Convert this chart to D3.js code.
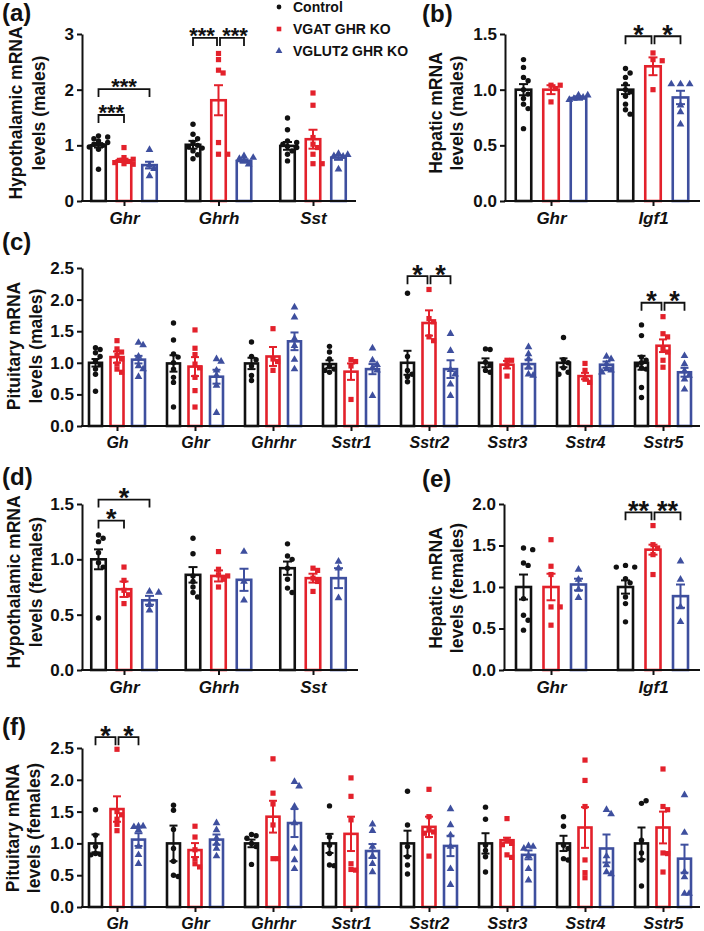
<!DOCTYPE html>
<html><head><meta charset="utf-8">
<script src="https://cdn.jsdelivr.net/npm/d3@7"></script>
<style>
html,body{margin:0;padding:0;background:#fff;}
svg text{font-family:"Liberation Sans",Arial,sans-serif;font-weight:bold;}
</style></head>
<body><svg id="chart" width="704" height="931"></svg>
<script>
// ---------------- DATA ----------------
const seriesNames = ["Control", "VGAT GHR KO", "VGLUT2 GHR KO"];
const seriesColors = ["#111111", "#e3212b", "#3e4f9e"];

// (a) Hypothalamic, males
const aGenes = ["Ghr", "Ghrh", "Sst"];
const aMeans = [[1.00, 0.73, 0.645], [1.01, 1.81, 0.72], [0.99, 1.11, 0.78]];
const aSem = [[0.04, 0.03, 0.06], [0.07, 0.27, 0.03], [0.07, 0.17, 0.04]];
const aPoints = [
  [[1.17,1.15,1.12,1.08,1.05,1.02,1.0,0.97,0.93,0.57],[0.96,0.78,0.75,0.73,0.71,0.69,0.67,0.66],[0.92,0.64,0.58,0.45]],
  [[1.38,1.2,1.12,1.05,1.0,0.97,0.95,0.9,0.83,0.76],[2.65,2.54,2.35,2.3,1.05,0.84,0.84],[0.81,0.78,0.76,0.72,0.66]],
  [[1.49,1.28,1.08,1.05,1.02,0.98,0.96,0.9,0.84,0.72],[1.94,1.72,1.14,1.02,0.96,0.84,0.67,0.67],[0.85,0.83,0.81,0.8,0.57]]
];
const aTicks = [0, 1, 2, 3];
const aSig = [
  {gene:"Ghr", from:0, to:1, y:1.545, label:"***"},
  {gene:"Ghr", from:0, to:2, y:2.01, label:"***"},
  {gene:"Ghrh", from:0, to:1, y:2.93, label:"***"},
  {gene:"Ghrh", from:1, to:2, y:2.93, label:"***"}
];

// (b) Hepatic, males
const bGenes = ["Ghr", "Igf1"];
const bMeans = [[1.0, 1.0, 0.925], [1.0, 1.21, 0.93]];
const bSem = [[0.05, 0.04, 0.015], [0.04, 0.08, 0.06]];
const bPoints = [
  [[1.27,1.2,1.11,1.08,1.0,0.96,0.92,0.87,0.83,0.65],[1.04,1.04,1.01,0.89],[0.95,0.95,0.93,0.92,0.91]],
  [[1.19,1.15,1.11,1.05,1.0,0.98,0.94,0.87,0.82,0.78],[1.33,1.27,1.26,1.0],[1.05,1.05,1.05,0.86,0.8,0.69]]
];
const bTicks = [0, 0.5, 1.0, 1.5];
const bSig = [
  {gene:"Igf1", from:0, to:1, y:1.48, label:"*"},
  {gene:"Igf1", from:1, to:2, y:1.48, label:"*"}
];

// (c) Pituitary, males
const cGenes = ["Gh", "Ghr", "Ghrhr", "Sstr1", "Sstr2", "Sstr3", "Sstr4", "Sstr5"];
const cMeans = [[1.0,1.09,1.05],[0.99,0.94,0.78],[0.99,1.1,1.34],[0.98,0.86,0.9],[1.0,1.63,0.9],[1.0,0.97,0.98],[1.0,0.79,0.97],[1.0,1.27,0.85]];
const cSem = [[0.06,0.09,0.06],[0.13,0.15,0.11],[0.09,0.15,0.14],[0.06,0.13,0.08],[0.19,0.2,0.14],[0.07,0.06,0.07],[0.07,0.05,0.05],[0.11,0.1,0.07]];
const cPoints = [
  [[1.24,1.21,1.16,1.1,1.03,0.97,0.9,0.82,0.55],[1.35,1.22,1.17,1.12,1.06,0.98,0.9,0.85],[1.32,1.28,1.1,0.95,0.9,0.78]],
  [[1.63,1.36,1.14,1.09,1.0,0.9,0.77,0.69,0.3],[1.52,1.23,1.13,0.98,0.92,0.77,0.56,0.3],[1.06,1.02,0.88,0.8,0.64,0.21]],
  [[1.33,1.1,1.05,0.95,0.8,0.72],[1.54,1.06,1.02,0.88],[1.88,1.72,1.38,1.27,1.05,0.9]],
  [[1.26,1.17,1.06,0.95,0.9,0.88,0.85],[1.05,1.02,0.95,0.42],[1.23,1.04,0.97,0.92,0.88,0.48]],
  [[2.1,1.1,0.88,0.82,0.78,0.7],[2.16,1.7,1.65,1.41,1.35],[1.46,1.19,0.89,0.82,0.66,0.48]],
  [[1.22,1.21,1.01,0.96,0.88,0.85],[1.04,1.04,0.96,0.79],[1.25,1.14,1.06,0.93,0.82,0.8]],
  [[1.4,1.05,1.0,0.92,0.85,0.82],[0.99,0.88,0.74,0.69],[1.1,1.06,0.98,0.9,0.88,0.85]],
  [[1.6,1.43,1.09,1.04,1.0,0.97,0.92,0.9,0.61,0.45],[1.73,1.46,1.41,1.22,1.17,1.04,0.93],[1.11,0.98,0.87,0.8,0.74,0.58]]
];
const cTicks = [0, 0.5, 1.0, 1.5, 2.0, 2.5];
const cSig = [
  {gene:"Sstr2", from:0, to:1, y:2.37, label:"*"},
  {gene:"Sstr2", from:1, to:2, y:2.37, label:"*"},
  {gene:"Sstr5", from:0, to:1, y:1.95, label:"*"},
  {gene:"Sstr5", from:1, to:2, y:1.95, label:"*"}
];

// (d) Hypothalamic, females
const dGenes = ["Ghr", "Ghrh", "Sst"];
const dMeans = [[1.0, 0.73, 0.63], [0.86, 0.85, 0.815], [0.92, 0.83, 0.83]];
const dSem = [[0.09, 0.07, 0.04], [0.07, 0.05, 0.1], [0.06, 0.04, 0.09]];
const dPoints = [
  [[1.22,1.19,1.16,1.06,0.97,0.93,0.47],[0.93,0.81,0.72,0.68,0.6],[0.71,0.7,0.59,0.54]],
  [[1.19,1.05,0.85,0.8,0.75,0.7,0.66],[1.07,0.91,0.86,0.85,0.82,0.75],[1.07,0.8,0.63]],
  [[1.14,1.03,1.0,0.92,0.82,0.74,0.7],[0.92,0.9,0.83,0.8,0.71],[0.98,0.92,0.65]]
];
const dTicks = [0, 0.5, 1.0, 1.5];
const dSig = [
  {gene:"Ghr", from:0, to:1, y:1.35, label:"*"},
  {gene:"Ghr", from:0, to:2, y:1.54, label:"*"}
];

// (e) Hepatic, females
const eGenes = ["Ghr", "Igf1"];
const eMeans = [[1.0, 1.0, 1.03], [1.0, 1.45, 0.89]];
const eSem = [[0.15, 0.16, 0.07], [0.08, 0.06, 0.14]];
const ePoints = [
  [[1.47,1.45,1.29,1.26,0.86,0.66,0.6,0.48],[1.57,1.25,1.15,0.76,0.76,0.54],[1.21,1.09,0.97,0.87]],
  [[1.26,1.24,1.24,1.1,1.05,0.88,0.8,0.58],[1.74,1.51,1.47,1.39,1.15],[1.31,1.09,0.76,0.58]]
];
const eTicks = [0, 0.5, 1.0, 1.5, 2.0];
const eSig = [
  {gene:"Igf1", from:0, to:1, y:1.9, label:"**"},
  {gene:"Igf1", from:1, to:2, y:1.9, label:"**"}
];

// (f) Pituitary, females
const fGenes = ["Gh", "Ghr", "Ghrhr", "Sstr1", "Sstr2", "Sstr3", "Sstr4", "Sstr5"];
const fMeans = [[1.0,1.54,1.06],[1.0,0.895,1.06],[1.0,1.42,1.32],[1.0,1.15,0.88],[1.0,1.26,0.96],[1.0,1.05,0.82],[1.0,1.25,0.92],[1.0,1.25,0.76]];
const fSem = [[0.14,0.2,0.1],[0.28,0.11,0.08],[0.06,0.25,0.22],[0.15,0.27,0.11],[0.2,0.16,0.16],[0.16,0.04,0.07],[0.12,0.32,0.22],[0.25,0.25,0.22]];
const fPoints = [
  [[1.53,1.13,0.95,0.84,0.83,0.82],[2.48,1.5,1.45,1.38,1.3,1.2],[1.27,1.27,1.26,1.21,0.95,0.82,0.68]],
  [[1.6,1.52,1.22,0.92,0.72,0.5,0.48],[1.27,1.1,0.9,0.76,0.68,0.63],[1.32,1.21,1.08,1.0,0.92,0.8]],
  [[1.14,1.12,1.08,1.0,0.95,0.67],[2.33,1.79,1.62,1.29,0.76,0.76],[1.97,1.9,1.58,1.32,0.92,0.74,0.6]],
  [[1.59,1.1,0.97,0.84,0.66,0.65],[2.03,1.74,1.37,0.68,0.59,0.58],[1.3,1.2,0.95,0.8,0.68,0.55]],
  [[1.82,1.29,0.95,0.79,0.66,0.52],[1.85,1.42,1.21,1.18,1.16,0.8],[1.54,1.29,1.13,0.95,0.6,0.35]],
  [[1.57,1.38,0.97,0.89,0.79,0.55],[1.39,1.05,1.0,0.98,0.82,0.78],[0.96,0.95,0.92,0.8,0.6,0.42]],
  [[1.42,1.27,0.97,0.92,0.76,0.74],[2.31,1.99,1.58,0.74,0.54,0.46],[1.53,1.46,0.8,0.66,0.55,0.52]],
  [[1.63,1.67,1.05,0.85,0.74,0.33],[2.17,1.58,1.53,0.85,0.84,0.55],[1.76,1.17,0.55,0.47,0.21,0.21]]
];
const fTicks = [0, 0.5, 1.0, 1.5, 2.0, 2.5];
const fSig = [
  {gene:"Gh", from:0, to:1, y:2.67, label:"*"},
  {gene:"Gh", from:1, to:2, y:2.67, label:"*"}
];

// ---------------- DRAWING ----------------
const svg = d3.select("#chart");
const FONT = '"Liberation Sans", Arial, sans-serif';

function marker(sel, s, size) {
  if (s === 0) {
    sel.append("circle").attr("r", size * 0.52).attr("fill", seriesColors[0]);
  } else if (s === 1) {
    sel.append("rect").attr("x", -size / 2).attr("y", -size / 2).attr("width", size).attr("height", size).attr("fill", seriesColors[1]);
  } else {
    sel.append("path").attr("d", d3.symbol(d3.symbolTriangle, size * size * 0.95)()).attr("fill", seriesColors[2]);
  }
}

function swarm(vals, y, step, maxOff) {
  const placed = [];
  const cands = [0];
  for (let k = 1; k <= 4; k++) { cands.push(k * step, -k * step); }
  return vals.map(v => {
    const py = y(v);
    let best = null, bestOverlap = Infinity;
    for (const c of cands) {
      if (Math.abs(c) > maxOff) continue;
      let ov = 0;
      for (const p of placed) {
        const dd = Math.hypot(p.x - c, p.y - py);
        if (dd < 5) ov += 5 - dd;
      }
      if (ov === 0) { best = c; break; }
      if (ov < bestOverlap) { bestOverlap = ov; best = c; }
    }
    placed.push({x: best, y: py});
    return {v: v, dx: best, py: py};
  });
}

function panel(cfg) {
  const g = svg.append("g");
  const y = d3.scaleLinear().domain([0, cfg.max]).range([cfg.y0, cfg.yTop]);
  const xg = d3.scalePoint().domain(cfg.genes).range([cfg.c0, cfg.c1]);
  const xs = d3.scalePoint().domain([0, 1, 2]).range([-cfg.off, cfg.off]);

  cfg.genes.forEach((gene, gi) => {
    for (let s = 0; s < 3; s++) {
      const cx = xg(gene) + xs(s);
      const m = cfg.means[gi][s], se = cfg.sem[gi][s];
      const col = seriesColors[s];
      g.append("rect")
        .attr("x", cx - cfg.bw / 2).attr("y", y(m))
        .attr("width", cfg.bw).attr("height", y(0) - y(m))
        .attr("fill", "#fff").attr("stroke", col).attr("stroke-width", 2.6);
      const eb = g.append("g").attr("stroke", col).attr("stroke-width", 2);
      eb.append("line").attr("x1", cx).attr("x2", cx).attr("y1", y(m - se)).attr("y2", y(m + se));
      eb.append("line").attr("x1", cx - cfg.cap).attr("x2", cx + cfg.cap).attr("y1", y(m + se)).attr("y2", y(m + se));
      eb.append("line").attr("x1", cx - cfg.cap).attr("x2", cx + cfg.cap).attr("y1", y(m - se)).attr("y2", y(m - se));
      const pts = swarm(cfg.points[gi][s], y, 4.6, cfg.bw / 2 + 2);
      pts.forEach(p => {
        const mg = g.append("g").attr("transform", `translate(${cx + p.dx},${p.py})`);
        marker(mg, s, 5.2);
      });
    }
  });

  // y axis
  const ya = d3.axisLeft(y).tickValues(cfg.ticks).tickSize(5).tickSizeOuter(0).tickPadding(3)
    .tickFormat(cfg.fmt);
  const yg = g.append("g").attr("transform", `translate(${cfg.x0},0)`).call(ya);
  yg.select(".domain").attr("stroke", "#111").attr("stroke-width", 2);
  yg.selectAll(".tick line").attr("stroke", "#111").attr("stroke-width", 2);
  yg.selectAll(".tick text").attr("font-size", 17).attr("font-family", FONT).attr("font-weight", "bold").attr("fill", "#111");

  // x axis
  const xa = d3.axisBottom(xg).tickSize(5).tickSizeOuter(0).tickPadding(6);
  const xgG = g.append("g").attr("transform", `translate(0,${cfg.y0})`).call(xa);
  xgG.select(".domain").remove();
  xgG.selectAll(".tick line").attr("stroke", "#111").attr("stroke-width", 2);
  xgG.selectAll(".tick text").attr("font-size", cfg.xfs).attr("font-family", FONT)
    .attr("font-weight", "bold").attr("font-style", "italic").attr("fill", "#111");
  g.append("line").attr("x1", cfg.x0 - 1).attr("x2", cfg.x1).attr("y1", cfg.y0).attr("y2", cfg.y0)
    .attr("stroke", "#111").attr("stroke-width", 2);

  // y title (two lines)
  cfg.title.forEach((t, i) => {
    g.append("text")
      .attr("transform", `translate(${cfg.titleX[i]},${cfg.titleY}) rotate(-90)`)
      .attr("text-anchor", "middle").attr("font-size", 17.5).attr("fill", "#111").text(t);
  });

  // panel letter
  g.append("text").attr("x", cfg.lx).attr("y", cfg.ly).attr("font-size", 24).attr("fill", "#111").text(cfg.letter);

  // significance brackets
  cfg.sig.forEach(sg => {
    const xa1 = xg(sg.gene) + xs(sg.from), xa2 = xg(sg.gene) + xs(sg.to);
    const meet = cfg.sig.some(o => o !== sg && o.gene === sg.gene && o.y === sg.y);
    const gap = meet ? 1.5 : 0;
    const xL = xa1 + (meet && sg.from === 1 ? gap : 0);
    const xR = xa2 - (meet && sg.to === 1 ? gap : 0);
    const yt = y(sg.y);
    g.append("path")
      .attr("d", `M${xL},${yt + 8}V${yt}H${xR}V${yt + 8}`)
      .attr("fill", "none").attr("stroke", "#111").attr("stroke-width", 1.8);
    const triple = sg.label.length > 2;
    const fs = triple ? 22 : 27;
    const shift = (meet && triple) ? (sg.from === 1 ? 3 : -3) : 0;
    g.append("text").attr("x", (xL + xR) / 2 + shift).attr("y", yt - 4 + 0.42 * fs)
      .attr("text-anchor", "middle").attr("font-size", fs)
      .attr("fill", "#111").text(sg.label);
  });
}

const f1 = d3.format("d"), f2 = d3.format(".1f");

panel({genes:aGenes, means:aMeans, sem:aSem, points:aPoints, ticks:aTicks, sig:aSig, max:3, fmt:f1,
  x0:82, x1:356, y0:201, yTop:34, c0:124, c1:313, off:25.5, bw:14.5, cap:4.5, xfs:17,
  title:["Hypothalamic mRNA","levels (males)"], titleX:[22,45], titleY:113, letter:"(a)", lx:2, ly:21});
panel({genes:bGenes, means:bMeans, sem:bSem, points:bPoints, ticks:bTicks, sig:bSig, max:1.5, fmt:f2,
  x0:505, x1:700, y0:201, yTop:34, c0:551, c1:653, off:27.5, bw:15.5, cap:4.5, xfs:17,
  title:["Hepatic mRNA","levels (males)"], titleX:[442,463], titleY:113, letter:"(b)", lx:422, ly:22});
panel({genes:cGenes, means:cMeans, sem:cSem, points:cPoints, ticks:cTicks, sig:cSig, max:2.5, fmt:f2,
  x0:82, x1:700, y0:426, yTop:268, c0:117, c1:663, off:21.5, bw:13, cap:4, xfs:16,
  title:["Pituitary mRNA","levels (males)"], titleX:[20,42], titleY:346, letter:"(c)", lx:2, ly:250});
panel({genes:dGenes, means:dMeans, sem:dSem, points:dPoints, ticks:dTicks, sig:dSig, max:1.5, fmt:f2,
  x0:82, x1:358, y0:670, yTop:504, c0:124, c1:313, off:25.5, bw:14.5, cap:4.5, xfs:17,
  title:["Hypothalamic mRNA","levels (females)"], titleX:[20,42], titleY:582, letter:"(d)", lx:2, ly:485});
panel({genes:eGenes, means:eMeans, sem:eSem, points:ePoints, ticks:eTicks, sig:eSig, max:2.0, fmt:f2,
  x0:504, x1:700, y0:670, yTop:504, c0:551, c1:653, off:27.5, bw:15, cap:4.5, xfs:17,
  title:["Hepatic mRNA","levels (females)"], titleX:[442,463], titleY:588, letter:"(e)", lx:422, ly:487});
panel({genes:fGenes, means:fMeans, sem:fSem, points:fPoints, ticks:fTicks, sig:fSig, max:2.5, fmt:f2,
  x0:82, x1:700, y0:907, yTop:748, c0:117, c1:663, off:21.5, bw:13, cap:4, xfs:16,
  title:["Pituitary mRNA","levels (females)"], titleX:[19,40], titleY:828, letter:"(f)", lx:2, ly:735});

// legend
const lg = svg.append("g");
seriesNames.forEach((n, i) => {
  const row = lg.append("g").attr("transform", `translate(279,${7 + i * 22})`);
  marker(row, i, 4.6);
  row.append("text").attr("x", 14).attr("y", 5).attr("font-size", 14).attr("fill", "#111").text(n);
});
</script></body></html>
